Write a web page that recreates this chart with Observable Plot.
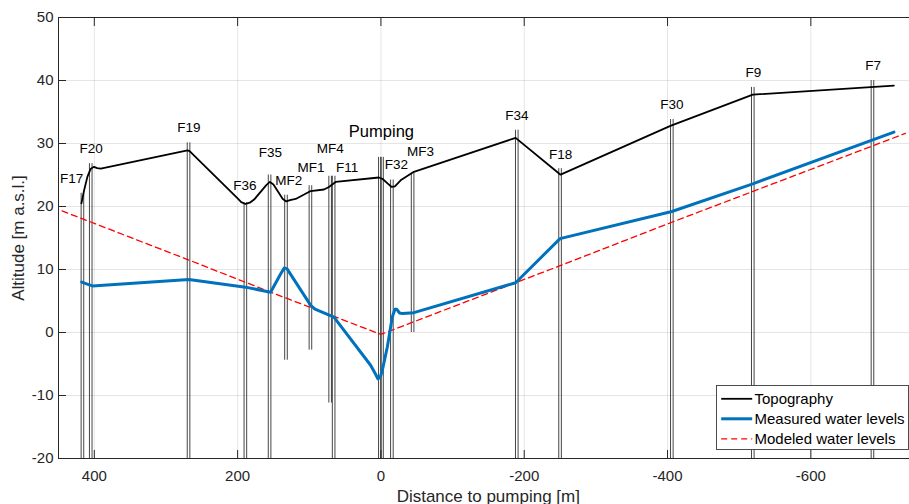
<!DOCTYPE html>
<html><head><meta charset="utf-8">
<script src="https://cdn.jsdelivr.net/npm/d3@7"></script>
<script src="https://cdn.jsdelivr.net/npm/@observablehq/plot@0.6"></script>
<style>
html,body{margin:0;padding:0;background:#fff;overflow:hidden}
#wrap{position:relative;width:909px;height:504px;overflow:hidden;font-family:"Liberation Sans",Arial,Helvetica,sans-serif;color:#262626}
#wrap svg{display:block}
.ttl{position:absolute;font-size:17px;white-space:nowrap;color:#262626;line-height:1}
</style></head><body><div id="wrap"></div>
<script>
// ---- data ----
const xTicks = [400, 200, 0, -200, -400, -600];
const yTicks = [-20, -10, 0, 10, 20, 30, 40, 50];

const topoX = [418, 414.4, 409.7, 405, 400.4, 396, 391, 270, 267, 200, 195, 189, 183, 177, 160, 155, 150, 137, 132, 127, 119, 98, 79.5, 72.6, 63.2, 2.8, -2, -10, -15, -19.5, -27.5, -46, -188, -250.7, -404, -519, -716];
const topoY = [20.5, 22.5, 24.7, 26.0, 26.3, 26.1, 26.0, 28.9, 28.8, 21.3, 20.7, 20.4, 20.6, 21.1, 23.4, 23.9, 23.5, 21.2, 20.8, 21.0, 21.2, 22.45, 22.7, 23.1, 23.9, 24.6, 24.4, 23.6, 23.1, 23.2, 24.15, 25.5, 30.9, 25.05, 32.8, 37.75, 39.2];

const measX = [417.6, 408, 402.7, 268, 189, 154, 140, 135, 131, 98, 92, 65.6, 14.4, 8, 4.2, 1, -2, -8.9, -15.9, -19.5, -22, -26, -30, -46, -188, -250, -406, -519, -716];
const measY = [8.0, 7.6, 7.4, 8.4, 7.2, 6.4, 9.3, 10.25, 10.1, 4.3, 3.7, 2.45, -5.2, -6.5, -7.35, -7.1, -6.0, -2.3, 2.46, 3.7, 3.7, 3.1, 3.0, 3.15, 7.9, 14.9, 19.2, 23.6, 31.8];

const modX = [445, 268, 154, 0, -188, -250, -406, -732];
const modY = [19.3, 11.5, 6.4, -0.3, 7.9, 10.6, 17.5, 31.6];

const wellNames  = ["F17", "F20", "F19", "F36", "F35", "MF2", "MF1", "MF4", "F11", "P1", "P2", "F32", "MF3", "F34", "F18", "F30", "F9", "F7"];
const wellX      = [416.6, 405, 268.5, 189.2, 155.4, 132.5, 98.4, 70.9, 66, 1.5, -1.5, -15.3, -44.2, -189.6, -250, -406, -519, -686];
const wellTop    = [22.1, 26.8, 30.1, 20.6, 25.0, 21.8, 23.3, 24.8, 24.8, 27.8, 27.8, 24.2, 25.3, 32.1, 26.0, 33.8, 38.9, 40.0];
const wellBottom = [-20, -20, -20, -20, -20, -4.4, -2.8, -11.2, -20, -20, -20, -20, 0, -20, -20, -20, -20, -20];

const labelNames = ["F17", "F20", "F19", "F36", "F35", "MF2", "MF1", "MF4", "F11", "Pumping", "F32", "MF3", "F34", "F18", "F30", "F9", "F7"];
const labelX     = [431.6, 404.4, 268, 189.8, 154.3, 128.8, 97.7, 70.6, 47.2, -0.7, -21.6, -55.4, -189.6, -250.7, -406, -519.8, -686.8];
const labelY     = [24.46, 29.17, 32.45, 23.35, 28.5, 24.1, 26.16, 29.17, 26.16, 31.85, 26.68, 28.64, 34.46, 28.22, 36.1, 41.17, 42.4];

const legendItems = ["Topography", "Measured water levels", "Modeled water levels"];

// ---- tables ----
const topo = topoX.map((x, i) => ({x, y: topoY[i]}));
const meas = measX.map((x, i) => ({x, y: measY[i]}));
const model = modX.map((x, i) => ({x, y: modY[i]}));
const wells = wellNames.map((n, i) => ({n, x: wellX[i], top: wellTop[i], bottom: wellBottom[i]}));
const labels = labelNames.map((n, i) => ({n, x: labelX[i], y: labelY[i]}));

const ink = "#262626";
const wellStroke = "#303030";
const fmt = d => String(d);

const chart = Plot.plot({
  width: 909,
  height: 504,
  marginLeft: 58,
  marginRight: 0,
  marginTop: 17,
  marginBottom: 46,
  style: {fontFamily: "'Liberation Sans', Arial, Helvetica, sans-serif", color: ink, background: "#fff", overflow: "visible"},
  x: {domain: [450, -737.7], label: null},
  y: {domain: [-20, 50], label: null},
  marks: [
    Plot.gridX(xTicks, {stroke: "#000", strokeOpacity: 0.1}),
    Plot.gridY(yTicks, {stroke: "#000", strokeOpacity: 0.1}),
    Plot.ruleX(wells, {x: "x", y1: "bottom", y2: "top", dx: -1.3, stroke: wellStroke, strokeWidth: 0.9}),
    Plot.ruleX(wells, {x: "x", y1: "bottom", y2: "top", dx: 1.3, stroke: wellStroke, strokeWidth: 0.9}),
    Plot.line(model, {x: "x", y: "y", stroke: "#ff0000", strokeWidth: 1.3, strokeDasharray: "6,4"}),
    Plot.line(topo, {x: "x", y: "y", stroke: "#000", strokeWidth: 1.8, strokeLinejoin: "round"}),
    Plot.line(meas, {x: "x", y: "y", stroke: "#0072BD", strokeWidth: 3, strokeLinejoin: "round"}),
    Plot.text(labels.filter(d => d.n !== "Pumping"), {x: "x", y: "y", text: "n", fontSize: 13.5, fill: "#000", lineAnchor: "middle"}),
    Plot.text(labels.filter(d => d.n === "Pumping"), {x: "x", y: "y", text: "n", fontSize: 16.5, fill: "#000", lineAnchor: "middle"}),
    Plot.ruleY([-20, 50], {stroke: ink, strokeWidth: 1}),
    Plot.ruleX([450], {stroke: ink, strokeWidth: 1}),
    Plot.axisX(xTicks, {anchor: "bottom", label: null, tickSize: 0, tickPadding: 12, fontSize: 15, fill: ink, tickFormat: fmt}),
    Plot.axisX(xTicks, {anchor: "bottom", label: null, tickSize: -8, stroke: ink, tickFormat: () => ""}),
    Plot.axisX(xTicks, {anchor: "top", label: null, tickSize: -8, stroke: ink, tickFormat: () => ""}),
    Plot.axisY(yTicks, {anchor: "left", label: null, tickSize: 0, tickPadding: 5, fontSize: 15, fill: ink, tickFormat: fmt}),
    Plot.axisY(yTicks, {anchor: "left", label: null, tickSize: -8, stroke: ink, tickFormat: () => ""})
  ]
});

const wrap = document.getElementById("wrap");
wrap.appendChild(chart);

// axis titles
const yt = document.createElement("div");
yt.className = "ttl";
yt.textContent = "Altitude [m a.s.l.]";
yt.style.left = "18px"; yt.style.top = "237.5px";
yt.style.transform = "translate(-50%,-50%) rotate(-90deg)";
wrap.appendChild(yt);

const xt = document.createElement("div");
xt.className = "ttl";
xt.textContent = "Distance to pumping [m]";
xt.style.left = "488.3px"; xt.style.top = "496px";
xt.style.transform = "translate(-50%,-50%)";
wrap.appendChild(xt);

// legend
const ns = "http://www.w3.org/2000/svg";
const lg = document.createElementNS(ns, "svg");
lg.setAttribute("width", 193); lg.setAttribute("height", 66);
lg.style.position = "absolute"; lg.style.left = "715.5px"; lg.style.top = "384.5px";
const box = document.createElementNS(ns, "rect");
box.setAttribute("x", 0.5); box.setAttribute("y", 0.5); box.setAttribute("width", 192); box.setAttribute("height", 64);
box.setAttribute("fill", "#fff"); box.setAttribute("stroke", "#3a3a3a"); box.setAttribute("stroke-width", 0.9);
lg.appendChild(box);
const styles = [
  {stroke: "#000", w: 1.8, dash: null},
  {stroke: "#0072BD", w: 3, dash: null},
  {stroke: "#ff0000", w: 1.3, dash: "6,4"}
];
legendItems.forEach((t, i) => {
  const cy = 13.8 + i * 20;
  const ln = document.createElementNS(ns, "line");
  ln.setAttribute("x1", 5.2); ln.setAttribute("x2", 36.2);
  ln.setAttribute("y1", cy); ln.setAttribute("y2", cy);
  ln.setAttribute("stroke", styles[i].stroke); ln.setAttribute("stroke-width", styles[i].w);
  if (styles[i].dash) ln.setAttribute("stroke-dasharray", styles[i].dash);
  lg.appendChild(ln);
  const tx = document.createElementNS(ns, "text");
  tx.setAttribute("x", 38.5); tx.setAttribute("y", cy);
  tx.setAttribute("dy", "0.35em");
  tx.setAttribute("font-size", 15);
  tx.setAttribute("font-family", "'Liberation Sans', Arial, Helvetica, sans-serif");
  tx.setAttribute("fill", "#000");
  tx.textContent = t;
  lg.appendChild(tx);
});
wrap.appendChild(lg);
</script>
</body></html>
